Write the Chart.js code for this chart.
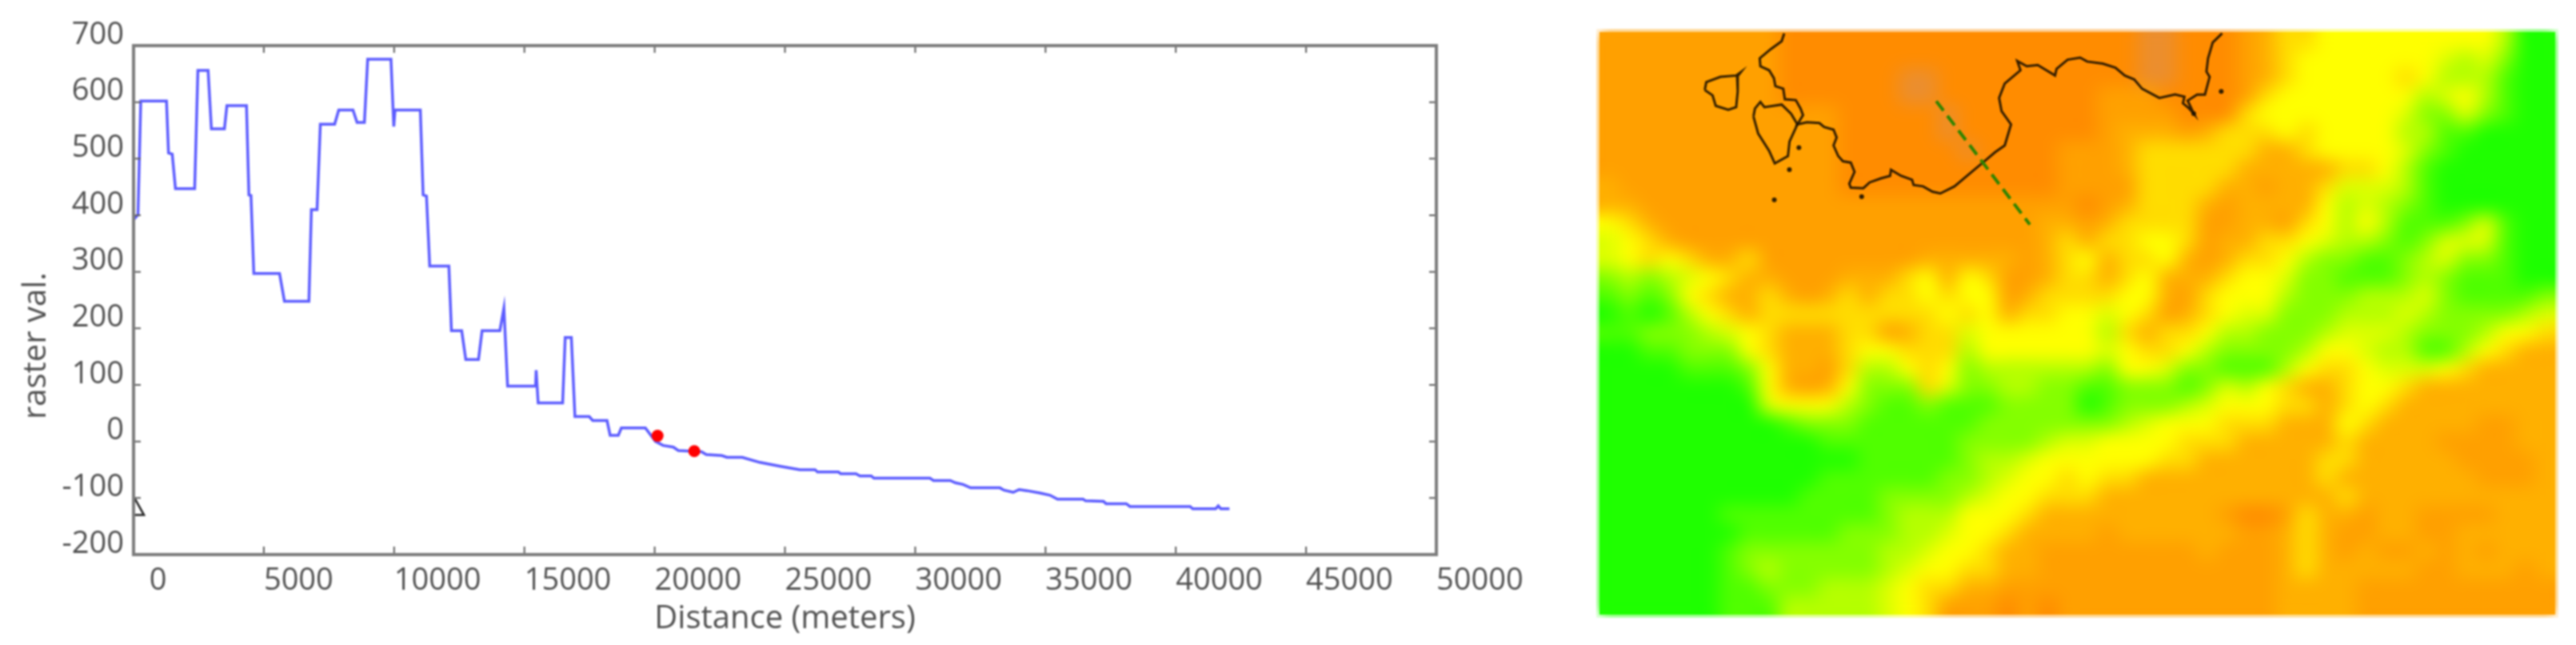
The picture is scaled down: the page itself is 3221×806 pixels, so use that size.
<!DOCTYPE html>
<html>
<head>
<meta charset="utf-8">
<style>
  html, body { margin: 0; background: #fff; overflow: hidden; }
  #profileBox { position: absolute; left: 0; top: 0; width: 1960px; height: 806px; }
  #mapBox { position: absolute; left: 1996px; top: 36px; width: 1203px; height: 736px; }
  /* the reference is a soft, upscaled screenshot */
  canvas { filter: blur(1.1px); }
</style>
<script src="https://cdn.jsdelivr.net/npm/chart.js@4/dist/chart.umd.min.js"></script>
</head>
<body>
<div id="profileBox"><canvas id="profileChart"></canvas></div>
<div id="mapBox"><canvas id="mapChart"></canvas></div>
<script>
// elevation profile, left panel
const profileDistance = [0, 170, 277, 1264, 1342, 1484, 1608, 2345, 2469, 2861, 2987, 3488, 3582, 4334, 4427, 4506, 4615, 5603, 5790, 6730, 6825, 7043, 7169, 7717, 7874, 8421, 8578, 8860, 8986, 9879, 9987, 10035, 11006, 11114, 11242, 11366, 12102, 12200, 12593, 12750, 13238, 13376, 14059, 14214, 14355, 15430, 15451, 15528, 16468, 16566, 16802, 16940, 17487, 17622, 18171, 18291, 18604, 18721, 19642, 20031, 20323, 20717, 20907, 21797, 21980, 22577, 22773, 23362, 24038, 24830, 25573, 26153, 26250, 27050, 27140, 27723, 27877, 28310, 28413, 30565, 30700, 31345, 31540, 31835, 32125, 33250, 33400, 33760, 33990, 34288, 34775, 35170, 35460, 36440, 36540, 37225, 37325, 38100, 38240, 40550, 40650, 41530, 41630, 41725, 42060];
const profileValue = [392, 401, 602, 602, 510, 508, 447, 447, 656, 656, 553, 553, 594, 594, 436, 435, 297, 297, 248, 248, 410, 410, 561, 561, 586, 586, 564, 564, 676, 676, 557, 586, 586, 436, 434, 310, 310, 196, 196, 145, 145, 196, 196, 236, 98, 98, 126, 68, 68, 184, 184, 44, 44, 37, 37, 11, 11, 24, 24, 0, -7, -10, -16, -18, -23, -25, -28, -28, -37, -44, -50, -50, -54, -54, -57, -57, -61, -61, -65, -65, -69, -69, -73, -76, -82, -82, -86, -90, -85, -87, -91, -95, -102, -102, -105, -106, -110, -110, -115, -115, -119, -119, -114, -119, -119];
const markerDistance = [20110, 21520];
const markerValue = [10, -17];
const triangleDistance = [0, 400, 0, 0];
const triangleValue = [-97, -130, -130, -97];
const speckDistance = [35120];
const speckValue = [742];
const xTicks = [0, 5000, 10000, 15000, 20000, 25000, 30000, 35000, 40000, 45000, 50000];
const yTicks = [-200, -100, 0, 100, 200, 300, 400, 500, 600, 700];

// raster levels, 0 green .. 5 yellow .. 9 orange, a = greyish orange
const heatRows = [
  "88888888 89999999 99999999 999aa999 87665555 55555300",
  "88888888 89999999 99999999 999aa999 87655555 55434200",
  "88888888 8999999a a9999999 999aa999 87655555 65333100",
  "88888888 8999999a a9999999 98889999 86555555 53453100",
  "88888888 88889999 9a999999 98888999 65555555 42242100",
  "88888888 88889999 9a999999 98777876 66565555 33110000",
  "88888888 88889999 99a99998 88766666 67765555 42100000",
  "88888888 88889999 99999998 88766666 77777665 31000000",
  "78888888 88889999 99999998 88866667 78776444 31000000",
  "77888888 88888888 88888888 98766678 77775343 21000000",
  "56788888 88888888 88888877 87666688 77865353 11124100",
  "45678888 88888888 88888876 76655687 76654332 12444100",
  "45656776 88888888 77777876 57665787 66532211 23422100",
  "23234567 78887776 57568876 67657776 55422111 23211100",
  "12125677 67876766 56558766 66557865 55322233 34211112",
  "01013567 66666666 65657665 54568765 44222333 43222234",
  "11222345 67776687 66455555 53676653 32223444 32223556",
  "00112225 67776556 66355555 54566532 22235543 31135677",
  "00001112 57786335 65233333 32554221 11356654 44567777",
  "00000001 57875222 64223322 11222124 35677655 67777777",
  "00000000 45553211 21112222 01222345 55667656 77777777",
  "00000000 01222111 11122222 22345556 66777567 77778877",
  "00000000 00011111 11222234 45555666 77777677 77888877",
  "00000000 00000111 11233455 55556677 77776677 77788887",
  "00000000 00011111 12234556 56677777 77776777 77778887",
  "00000000 00111122 22345566 67777777 77777677 77777777",
  "00000011 11111123 33555677 77777778 99867787 78888777",
  "00000001 11112223 34556777 78777777 88767887 78877777",
  "00000012 22222233 45567788 88888878 88767878 87878777",
  "00000012 32222234 55667788 88888888 88767777 78877787",
  "00000011 22233345 66778888 88888888 88777788 88888888",
  "00000011 13333345 68889898 88888888 88777788 88888888"
];
const heatColors = ["#1fff00", "#50ff00", "#84ff00", "#b4ff00", "#dcff00", "#ffff00", "#ffdc00", "#ffb000", "#ffa000", "#ff8c00", "#ec8e2c"];

// map overlay, in map pixels
const coastMainX = [232.5, 229.3, 215.5, 201.7, 202.5, 213.5, 219.5, 221.4, 231.3, 233.3, 247.1, 253.1, 256.2, 249.1, 261, 276.8, 282.7, 294.6, 298.5, 294.6, 300.5, 306.4, 316.3, 321, 314.4, 316.3, 332.1, 340, 353.9, 365.8, 366.9, 379.6, 393.4, 395.4, 407.3, 419.1, 429, 446.8, 470.5, 484.4, 498.2, 510.1, 518, 506.1, 503, 510.1, 529.9, 525.9, 537.8, 551.6, 573.4, 575.3, 589.2, 605, 613.8, 633.5, 649.4, 661.2, 673.1, 683, 704.7, 724.5, 736.3, 734.4, 742.3, 748.2, 740.3, 752.2, 762.1, 768, 764, 766, 771.9, 783.8];
const coastMainY = [1.7, 11.7, 21.7, 33.3, 43.3, 48.3, 58.3, 68.3, 71.7, 85, 86, 96.7, 105, 116.7, 114, 115, 120, 123.3, 133.3, 143.3, 156.7, 163.3, 165, 176.7, 191.7, 196.7, 197.3, 190, 185, 181.7, 174, 181.7, 186.7, 193.3, 195, 201.7, 204, 195, 175, 163.3, 151.7, 143.3, 116.7, 100, 83.3, 65, 48.3, 36.7, 43.3, 41.7, 55, 46.7, 35, 32.3, 37.3, 40, 45, 55, 60, 71.7, 83.3, 79, 81.7, 90, 96.7, 103.3, 86.7, 79, 79, 56.7, 50, 33.3, 13.3, 1.7];
const islandX = [193.8, 195.7, 202.5, 207.6, 229.3, 241.2, 249.1, 239.2, 237.2, 220.6, 213.5, 199.7, 193.8];
const islandY = [106.7, 96.7, 88.3, 95, 91.7, 103.3, 116.7, 138.3, 156.7, 166, 150, 128.3, 106.7];
const isletX = [132.5, 134.4, 152.2, 172, 177.9, 173.2, 174, 172, 162.1, 146.3, 142.3, 132.5];
const isletY = [73.3, 63.3, 56.7, 55, 50.7, 56.7, 75, 95, 98.3, 93.3, 80, 73.3];
const spotX = [251, 239, 220, 782.6, 330, 748];
const spotY = [146, 174, 212, 75, 208, 103];
const transectX = [423.9, 541.7];
const transectY = [87.3, 243.3];

const gridRows = heatRows.map(r => r.replace(/ /g, ""));
const rows = gridRows.length;
const cols = gridRows[0].length;
const heatPoints = [];
gridRows.forEach((row, j) => {
  for (let i = 0; i < cols; i++) {
    heatPoints.push({ x: (i + 0.5) * 1203 / cols, y: (j + 0.5) * 736 / rows, v: row[i] });
  }
});

function zip(xs, ys) {
  return xs.map((x, i) => ({ x, y: ys[i] }));
}

// ticks point into the plot on all four sides, like the old matplotlib style
const innerTicks = {
  id: "innerTicks",
  afterDatasetsDraw(chart) {
    const { ctx, chartArea: area, scales } = chart;
    ctx.save();
    ctx.strokeStyle = "#5e5e5e";
    ctx.lineWidth = 2;
    ctx.beginPath();
    xTicks.slice(1, -1).forEach(t => {
      const px = scales.x.getPixelForValue(t);
      ctx.moveTo(px, area.bottom); ctx.lineTo(px, area.bottom - 10);
      ctx.moveTo(px, area.top); ctx.lineTo(px, area.top + 9);
    });
    yTicks.slice(1, -1).forEach(t => {
      const py = scales.y.getPixelForValue(t);
      ctx.moveTo(area.left, py); ctx.lineTo(area.left + 9, py);
      ctx.moveTo(area.right, py); ctx.lineTo(area.right - 9, py);
    });
    ctx.stroke();
    ctx.strokeStyle = "#7c7c7c";
    ctx.lineWidth = 4;
    ctx.strokeRect(area.left, area.top, area.right - area.left, area.bottom - area.top);
    ctx.restore();
  }
};

new Chart(document.getElementById("profileChart"), {
  type: "scatter",
  data: {
    datasets: [
      { data: zip(profileDistance, profileValue), showLine: true, borderColor: "#5c5cff", borderWidth: 3.5, pointRadius: 0, order: 3 },
      { data: zip(markerDistance, markerValue), pointRadius: 7.5, pointBackgroundColor: "#ff0000", pointBorderWidth: 0, order: 1 },
      { data: zip(triangleDistance, triangleValue), showLine: true, borderColor: "#222", borderWidth: 2.5, pointRadius: 0, order: 2 },
      { data: zip(speckDistance, speckValue), pointRadius: 3.5, pointBackgroundColor: "#444", pointBorderWidth: 0, clip: false, order: 2 }
    ]
  },
  options: {
    responsive: true,
    maintainAspectRatio: false,
    animation: false,
    layout: { padding: { left: 0, top: 57, right: 164, bottom: 0 } },
    plugins: { legend: { display: false }, tooltip: { enabled: false } },
    scales: {
      x: {
        type: "linear",
        min: 0,
        max: 50000,
        afterBuildTicks: axis => { axis.ticks = xTicks.map(value => ({ value })); },
        afterFit: axis => { axis.height = 113; },
        grid: { display: false, drawTicks: false },
        border: { display: false },
        ticks: {
          align: "start",
          maxRotation: 0,
          autoSkip: false,
          padding: 10,
          color: "#505050",
          font: { family: "Open Sans", size: 38 },
          callback: v => (v === 0 ? "  0" : String(v))
        },
        title: { display: true, text: "Distance (meters)", color: "#505050", font: { family: "Open Sans", size: 40 }, padding: { top: 0, bottom: 8 } }
      },
      y: {
        type: "linear",
        min: -200,
        max: 700,
        afterBuildTicks: axis => { axis.ticks = yTicks.map(value => ({ value })); },
        afterFit: axis => { axis.width = 167; },
        grid: { display: false, drawTicks: false },
        border: { display: false },
        ticks: {
          autoSkip: false,
          padding: 12,
          labelOffset: -13,
          color: "#505050",
          font: { family: "Open Sans", size: 38 }
        },
        // trailing spaces push the centred title down to where the original has it
        title: { display: true, text: "raster val.           ", color: "#505050", font: { family: "Open Sans", size: 40 }, padding: { top: 22, bottom: 0 } }
      }
    }
  },
  plugins: [innerTicks]
});

// paints the raster cells one pixel each, then lets the canvas smooth them up to the plot
const rasterCells = {
  id: "rasterCells",
  beforeDatasetDraw(chart, args) {
    if (args.index !== 0) return;
    const { ctx, chartArea: area, scales } = chart;
    const small = document.createElement("canvas");
    small.width = cols;
    small.height = rows;
    const sctx = small.getContext("2d");
    heatPoints.forEach(p => {
      const col = Math.floor((scales.x.getPixelForValue(p.x) - area.left) / (area.width / cols));
      const row = Math.floor((scales.y.getPixelForValue(p.y) - area.top) / (area.height / rows));
      sctx.fillStyle = heatColors[parseInt(p.v, 16)];
      sctx.fillRect(col, row, 1, 1);
    });
    ctx.save();
    ctx.imageSmoothingEnabled = true;
    ctx.imageSmoothingQuality = "high";
    ctx.drawImage(small, area.left, area.top, area.width, area.height);
    // soften the cell edges, the sharp copy underneath keeps the border solid
    ctx.filter = "blur(8px)";
    ctx.drawImage(small, area.left, area.top, area.width, area.height);
    ctx.restore();
    return false;
  }
};

new Chart(document.getElementById("mapChart"), {
  type: "scatter",
  data: {
    datasets: [
      { data: heatPoints, pointRadius: 0, order: 9 },
      { data: zip(coastMainX, coastMainY), showLine: true, borderColor: "rgba(30,18,0,0.9)", borderWidth: 3, pointRadius: 0, order: 2 },
      { data: zip(islandX, islandY), showLine: true, borderColor: "rgba(30,18,0,0.9)", borderWidth: 3, pointRadius: 0, order: 2 },
      { data: zip(isletX, isletY), showLine: true, borderColor: "rgba(30,18,0,0.9)", borderWidth: 3, pointRadius: 0, order: 2 },
      { data: zip(spotX, spotY), pointRadius: 3, pointBackgroundColor: "rgba(30,18,0,0.9)", pointBorderWidth: 0, order: 2 },
      { data: zip(transectX, transectY), showLine: true, borderColor: "#2f8400", borderWidth: 4, borderDash: [15, 8], pointRadius: 0, order: 1 }
    ]
  },
  options: {
    responsive: true,
    maintainAspectRatio: false,
    animation: false,
    layout: { padding: 0 },
    plugins: { legend: { display: false }, tooltip: { enabled: false } },
    scales: {
      x: { type: "linear", min: 0, max: 1203, display: false },
      y: { type: "linear", min: 0, max: 736, reverse: true, display: false }
    }
  },
  plugins: [rasterCells]
});
</script>
</body>
</html>
